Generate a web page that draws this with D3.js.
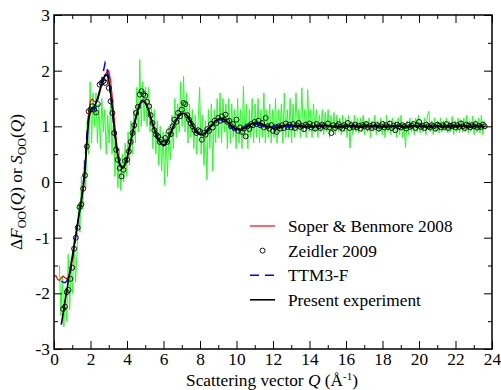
<!DOCTYPE html>
<html>
<head>
<meta charset="utf-8">
<script src="https://cdn.jsdelivr.net/npm/d3@7"></script>
<style>
  body { margin: 0; background: #fff; }
  svg, svg text { font-family: "Liberation Serif", "Times New Roman", "DejaVu Serif", serif; }
</style>
</head>
<body>
<div id="chart"></div>
<script>
// ---- data ----
const xTicks = [0, 2, 4, 6, 8, 10, 12, 14, 16, 18, 20, 22, 24];
const yTicks = [-3, -2, -1, 0, 1, 2, 3];
const legendLabels = ['Soper & Benmore 2008', 'Zeidler 2009', 'TTM3-F', 'Present experiment'];
const serif = '"Liberation Serif", "Times New Roman", "DejaVu Serif", serif';
const fontSize = 17.3;

// smooth curves: Q step 0.1 up to Q = 13, then step 0.25
const soperQ0 = 0.0;
const soperValues = [
  -1.70,-1.68,-1.75,-1.77,-1.72,-1.69,-1.72,-1.74,-1.70,-1.60,
  -1.42,-1.18,-0.95,-0.73,-0.52,-0.30,-0.05,0.32,0.80,1.25,
  1.46,1.49,1.45,1.44,1.50,1.60,1.72,1.83,1.92,1.98,
  2.00,1.82,1.50,1.15,0.80,0.52,0.34,0.25,0.24,0.30,
  0.40,0.54,0.70,0.86,1.02,1.17,1.30,1.40,1.46,1.48,
  1.45,1.38,1.28,1.17,1.06,0.95,0.86,0.78,0.71,0.67,
  0.65,0.66,0.71,0.78,0.86,0.95,1.04,1.11,1.17,1.21,
  1.23,1.24,1.23,1.20,1.15,1.09,1.02,0.96,0.90,0.87,
  0.85,0.85,0.86,0.89,0.93,0.97,1.01,1.05,1.09,1.11,
  1.13,1.13,1.13,1.12,1.10,1.07,1.04,1.01,0.98,0.96,
  0.94,0.94,0.94,0.95,0.97,0.99,1.01,1.03,1.04,1.05,
  1.05,1.05,1.04,1.03,1.02,1.00,0.99,0.98,0.98,0.98,
  0.98,0.99,1.00,1.01,1.01,1.02,1.01,1.01,1.00,1.00,
  0.99,
  1.00,1.01,1.01,1.00,0.99,0.99,1.00,1.01,1.01,1.00,
  0.99,1.00,1.01,1.00,1.00,0.99,1.00,1.01,1.00,1.00,
  0.99,1.00,1.01,1.01,1.00,0.99,1.00,1.00,1.01,1.00,
  0.99,1.00,1.01,1.00,1.00,0.99,1.00,1.01,1.00,1.00,
  1.00,1.00
];

const ttmQ0 = 0.4;
const ttmValues = [
  -1.78,-1.80,-1.81,-1.78,-1.72,-1.60,
  -1.40,-1.18,-0.96,-0.74,-0.53,-0.30,-0.05,0.35,0.85,1.20,
  1.30,1.33,1.30,1.35,1.48,1.62,1.80,1.98,2.14,2.05,
  1.85,1.56,1.25,0.93,0.64,0.44,0.30,0.24,0.25,0.32,
  0.43,0.57,0.72,0.88,1.04,1.19,1.31,1.40,1.46,1.47,
  1.43,1.36,1.26,1.15,1.04,0.93,0.84,0.76,0.70,0.66,
  0.65,0.67,0.72,0.80,0.88,0.97,1.05,1.12,1.17,1.21,
  1.23,1.23,1.21,1.17,1.12,1.06,0.99,0.93,0.89,0.86,
  0.85,0.85,0.87,0.90,0.94,0.98,1.02,1.06,1.09,1.11,
  1.12,1.12,1.11,1.09,1.07,1.04,1.01,0.98,0.96,0.94,
  0.93,0.93,0.94,0.96,0.98,1.00,1.02,1.04,1.05,1.05,
  1.05,1.04,1.03,1.01,1.00,0.99,0.98,0.98,0.98,0.99,
  1.00,1.01,1.02,1.02,1.02,1.01,1.00,0.99,0.99,0.99,
  1.00,
  1.01,1.00,1.00,0.99,1.00,1.01,1.01,1.00,0.99,1.00,
  1.00,1.01,1.00,0.99,1.00,1.00,1.01,1.00,1.00,0.99,
  1.00,1.01,1.00,1.00,0.99,1.00,1.01,1.00,1.00,1.00,
  0.99,1.00,1.01,1.00,1.00,1.00,0.99,1.00,1.01,1.00,
  1.00,1.00
];

const presentQ0 = 0.4;
const presentValues = [
  -2.56,-2.36,-2.15,-1.95,-1.75,-1.55,
  -1.34,-1.14,-0.94,-0.73,-0.53,-0.33,-0.12,0.20,0.68,1.12,
  1.29,1.33,1.36,1.42,1.52,1.64,1.76,1.86,1.92,1.93,
  1.83,1.60,1.30,0.98,0.68,0.47,0.33,0.27,0.27,0.33,
  0.43,0.57,0.72,0.88,1.03,1.18,1.30,1.39,1.44,1.45,
  1.42,1.36,1.27,1.16,1.05,0.95,0.86,0.78,0.72,0.68,
  0.67,0.68,0.73,0.80,0.88,0.96,1.04,1.11,1.16,1.20,
  1.22,1.23,1.22,1.19,1.14,1.08,1.01,0.95,0.90,0.87,
  0.86,0.85,0.86,0.88,0.92,0.96,1.00,1.04,1.08,1.11,
  1.13,1.14,1.14,1.13,1.11,1.08,1.05,1.02,0.99,0.97,
  0.95,0.94,0.94,0.95,0.96,0.98,1.00,1.02,1.04,1.05,
  1.06,1.06,1.06,1.05,1.04,1.03,1.01,1.00,0.99,0.98,
  0.97,0.97,0.97,0.98,0.99,1.00,1.01,1.02,1.02,1.02,
  1.02,
  1.01,1.00,0.99,0.99,1.00,1.01,1.02,1.01,1.00,0.99,
  0.99,1.00,1.01,1.00,0.99,1.00,1.01,1.01,1.00,0.99,
  1.00,1.00,1.01,1.00,0.99,1.00,1.01,1.00,1.00,0.99,
  1.00,1.01,1.00,0.99,1.00,1.00,1.01,1.00,0.99,1.00,
  1.00,1.00
];

// Zeidler 2009 points, Q step 0.1
const zeidlerQ0 = 0.5;
const zeidlerValues = [
  -2.28,-2.24,-1.98,-1.94,-1.74,-1.54,-1.20,-1.00,-0.82,-0.45,
  -0.40,-0.12,0.12,0.64,1.27,1.30,1.36,1.30,1.25,1.40,
  1.75,1.78,1.81,1.78,1.87,1.69,1.45,1.24,0.88,0.58,
  0.40,0.25,0.10,0.22,0.38,0.40,0.55,0.72,0.88,1.02,
  1.24,1.35,1.57,1.63,1.58,1.55,1.44,1.36,1.20,1.06,
  0.93,0.85,0.82,0.72,0.76,0.70,0.79,0.72,0.91,0.86,
  1.00,1.12,1.08,1.24,1.18,1.30,1.42,1.40,1.20,1.12,
  1.05,1.00,0.93,0.88,0.93,0.91,0.76,0.88,0.85,0.95,
  0.92,1.04,0.98,1.10,1.06,1.15,1.10,1.18,1.12,1.21,
  1.08,1.10,1.00,1.04,0.96,1.12,0.92,0.98,0.90,0.96,
  0.82,1.00,0.95,1.04,1.02,1.08,1.04,1.10,1.02,1.06,
  0.98,1.15,1.00,0.96,1.02,0.92,0.98,0.90,1.00,0.96,
  1.02,0.97,1.05,0.99,1.03,0.98,1.04,0.97,1.02,1.06,
  0.99,1.01,0.95,1.03,1.00,1.05,0.98,1.02,0.96,1.04,
  1.00,0.97,1.03,1.01,0.99,1.05,0.98,0.88,1.02,0.97,
  1.01,1.04,0.99,0.96,1.02,1.00,1.06,0.97,1.02,0.99,
  1.03,0.98,1.01,0.96,1.02,1.00,1.04,0.98,1.01,0.97,
  1.03,0.99,1.02,0.96,1.00,1.04,0.98,1.02,0.99,1.05,
  0.97,1.01,0.93,1.03,1.00,0.98,1.02,1.00,0.96,1.03,
  0.99,1.01,1.04,0.97,1.02,1.08,0.99,1.01,0.97,1.03,
  1.00,0.98,1.02,1.00,0.96,1.03,1.01,0.98,1.02,0.99,
  1.04,0.97,1.01,1.00,1.03,0.98,1.02,0.99,1.05,1.00,
  0.97,1.03,1.01,0.98,1.02,1.00,1.04,0.98,1.01,0.99,
  1.03,1.00
];

// raw (noisy) data in green, Q step 0.08
const rawQ0 = 0.3;
const rawStep = 0.08;
const rawValues = [
  -1.50,-2.40,-1.70,-2.60,-1.90,-2.50,-1.30,-2.30,-1.40,-2.00,-1.00,-1.80,
  -1.30,-0.40,-0.90,0.10,-0.50,0.40,-0.10,1.10,0.50,1.80,0.70,1.60,
  1.00,1.60,0.70,1.40,0.60,1.50,0.90,1.30,0.50,1.20,0.70,1.40,
  0.50,1.20,0.10,0.80,-0.10,0.60,-0.15,0.50,0.00,0.70,0.10,0.90,
  0.30,1.10,0.50,1.30,0.70,1.70,0.90,2.20,1.00,1.80,1.10,1.70,
  1.00,1.70,0.90,1.40,0.60,1.30,0.50,1.10,0.30,1.00,0.20,0.90,
  -0.05,0.90,0.10,1.00,0.40,1.20,0.60,1.50,0.80,1.40,0.90,1.80,
  1.00,1.90,0.90,1.60,0.70,1.40,0.80,1.30,0.60,1.20,0.50,1.10,
  1.70,0.50,1.20,0.30,1.10,0.04,1.30,0.60,1.40,0.20,1.30,0.70,
  1.50,0.80,1.60,0.70,1.50,0.90,1.40,0.60,1.50,0.70,1.40,0.80,
  1.30,0.60,1.50,0.70,1.30,0.60,1.72,0.80,1.40,0.60,1.30,0.80,
  1.50,0.70,1.40,0.80,1.50,0.70,1.30,0.80,1.60,0.70,1.30,0.80,
  1.40,0.70,1.30,0.80,1.50,0.70,1.30,0.90,1.40,0.70,1.60,0.80,
  1.30,0.80,1.50,0.70,1.40,0.80,1.60,0.90,1.30,0.80,1.69,0.90,
  1.30,0.80,1.66,0.90,1.30,0.80,1.40,0.90,1.30,0.80,1.20,0.90,
  1.30,0.85,1.25,0.90,1.30,0.80,1.20,0.90,1.25,0.85,1.20,0.90,
  1.15,0.85,1.20,0.90,1.15,0.80,1.20,0.61,1.10,0.85,1.20,0.90,
  1.15,0.88,1.15,0.90,1.20,0.85,1.10,0.90,1.15,0.80,1.10,0.90,
  1.20,0.85,1.10,0.90,1.15,0.85,1.10,0.80,1.20,0.90,1.10,0.85,
  1.15,0.90,1.10,0.80,1.15,0.85,1.20,0.80,1.05,0.62,1.10,0.85,
  1.15,0.90,1.10,0.85,1.15,0.90,1.20,0.88,1.10,0.90,1.15,0.85,
  1.20,1.27,0.90,1.10,0.85,1.15,0.90,1.10,0.88,1.15,0.90,1.10,
  0.92,1.15,0.88,1.10,0.90,1.18,0.85,1.10,0.90,1.15,0.88,1.12,
  0.90,1.15,0.90,1.20,0.88,1.10,0.92,1.18,0.85,1.12,0.90,1.15,
  0.88,1.20,0.85,1.10
];

// ---- layout ----
const margin = { top: 15, right: 9, bottom: 41, left: 54 };
const width = 501 - margin.left - margin.right;
const height = 390 - margin.top - margin.bottom;

const svg = d3.select('#chart')
  .append('svg')
  .attr('width', 501)
  .attr('height', 390)
  .attr('font-family', serif)
  .append('g')
  .attr('transform', `translate(${margin.left}, ${margin.top})`);

const x = d3.scaleLinear().domain([0, 24]).range([0, width]);
const y = d3.scaleLinear().domain([-3, 3]).range([height, 0]);

// Q positions for the smooth curves
function curveQ(q0, n) {
  const nFine = Math.floor((13 - q0) / 0.1 + 1e-6) + 1;
  return d3.range(n).map(i => i < nFine ? q0 + i * 0.1 : 13 + (i - nFine + 1) * 0.25);
}
function toPoints(qs, vals) { return vals.map((v, i) => [qs[i], v]); }

const soper = toPoints(curveQ(soperQ0, soperValues.length), soperValues);
const ttm = toPoints(curveQ(ttmQ0, ttmValues.length), ttmValues);
const present = toPoints(curveQ(presentQ0, presentValues.length), presentValues);
const zeidler = zeidlerValues.map((v, i) => [zeidlerQ0 + i * 0.1, v]);
const raw = rawValues.map((v, i) => [rawQ0 + i * rawStep, v]);

svg.append('clipPath').attr('id', 'plot-clip')
  .append('rect').attr('width', width).attr('height', height);

const line = d3.line().x(d => x(d[0])).y(d => y(d[1]));
const plot = svg.append('g').attr('clip-path', 'url(#plot-clip)');

//green raw data
plot.append('path').datum(raw)
  .attr('d', line).attr('fill', 'none')
  .attr('stroke', '#22ff22').attr('stroke-width', 1);

//Soper & Benmore
plot.append('path').datum(soper)
  .attr('d', line).attr('fill', 'none')
  .attr('stroke', '#ff0000').attr('stroke-width', 1.2);

//Zeidler circles
plot.append('g')
  .selectAll('circle')
  .data(zeidler)
  .enter()
  .append('circle')
  .attr('cx', d => x(d[0]))
  .attr('cy', d => y(d[1]))
  .attr('r', 2.5)
  .attr('fill', 'none')
  .attr('stroke', '#000')
  .attr('stroke-width', 0.9);

//TTM3-F
plot.append('path').datum(ttm)
  .attr('d', line).attr('fill', 'none')
  .attr('stroke', '#0000ff').attr('stroke-width', 1.5)
  .attr('stroke-dasharray', '9,6');

//present experiment
plot.append('path').datum(present)
  .attr('d', line).attr('fill', 'none')
  .attr('stroke', '#000').attr('stroke-width', 1.6);

// ---- axes, ticks pointing inward ----
const minorX = d3.range(1, 24, 2);
const minorY = d3.range(-2.5, 3, 1);

function styleAxis(g) {
  g.attr('font-family', serif).attr('font-size', fontSize);
  g.select('.domain').remove();
  g.selectAll('line').attr('stroke', '#000').attr('stroke-width', 1);
  g.selectAll('text').attr('fill', '#000');
}

svg.append('g').attr('transform', `translate(0, ${height})`)
  .call(d3.axisBottom(x).tickValues(xTicks).tickSize(-8).tickPadding(4).tickFormat(d => String(d)))
  .call(styleAxis);
svg.append('g').attr('transform', `translate(0, ${height})`)
  .call(d3.axisBottom(x).tickValues(minorX).tickSize(-4).tickFormat(''))
  .call(styleAxis);
svg.append('g')
  .call(d3.axisTop(x).tickValues(xTicks).tickSize(-8).tickFormat(''))
  .call(styleAxis);
svg.append('g')
  .call(d3.axisTop(x).tickValues(minorX).tickSize(-4).tickFormat(''))
  .call(styleAxis);

svg.append('g')
  .call(d3.axisLeft(y).tickValues(yTicks).tickSize(-8).tickPadding(4).tickFormat(d => String(d)))
  .call(styleAxis);
svg.append('g')
  .call(d3.axisLeft(y).tickValues(minorY).tickSize(-4).tickFormat(''))
  .call(styleAxis);
svg.append('g').attr('transform', `translate(${width}, 0)`)
  .call(d3.axisRight(y).tickValues(yTicks).tickSize(-8).tickFormat(''))
  .call(styleAxis);
svg.append('g').attr('transform', `translate(${width}, 0)`)
  .call(d3.axisRight(y).tickValues(minorY).tickSize(-4).tickFormat(''))
  .call(styleAxis);

svg.append('rect')
  .attr('width', width).attr('height', height)
  .attr('fill', 'none').attr('stroke', '#000').attr('stroke-width', 1.5);

// ---- axis titles ----
const xTitle = svg.append('text')
  .attr('x', width / 2 - 1).attr('y', height + 37)
  .attr('text-anchor', 'middle').attr('font-size', fontSize);
xTitle.append('tspan').text('Scattering vector ');
xTitle.append('tspan').attr('font-style', 'italic').text('Q');
xTitle.append('tspan').text(' (Å');
xTitle.append('tspan').attr('font-size', 11).attr('dy', -6).text('-1');
xTitle.append('tspan').attr('dy', 6).text(')');

const yTitle = svg.append('text')
  .attr('transform', `translate(-32, ${height / 2}) rotate(-90)`)
  .attr('text-anchor', 'middle').attr('font-size', fontSize);
yTitle.append('tspan').text('Δ');
yTitle.append('tspan').attr('font-style', 'italic').text('F');
yTitle.append('tspan').attr('font-size', 12).attr('dy', 4).text('OO');
yTitle.append('tspan').attr('dy', -4).text('(');
yTitle.append('tspan').attr('font-style', 'italic').text('Q');
yTitle.append('tspan').text(') or ');
yTitle.append('tspan').attr('font-style', 'italic').text('S');
yTitle.append('tspan').attr('font-size', 12).attr('dy', 4).text('OO');
yTitle.append('tspan').attr('dy', -4).text('(');
yTitle.append('tspan').attr('font-style', 'italic').text('Q');
yTitle.append('tspan').text(')');

// ---- legend ----
const legend = svg.append('g').attr('transform', 'translate(196, 211)');
const legendRows = legend.selectAll('g')
  .data(legendLabels)
  .enter()
  .append('g')
  .attr('transform', (d, i) => `translate(0, ${i * 24.6})`);

legendRows.append('text')
  .attr('x', 38).attr('y', 6)
  .attr('font-size', fontSize)
  .text(d => d);

legendRows.filter((d, i) => i !== 1).append('line')
  .attr('x1', 0).attr('x2', 25).attr('y1', 0).attr('y2', 0)
  .attr('stroke', (d, i) => ['#ff0000', '#0000ff', '#000'][i])
  .attr('stroke-width', (d, i) => [1.2, 1.5, 1.6][i])
  .attr('stroke-dasharray', (d, i) => i === 1 ? '9,6' : null);

legendRows.filter((d, i) => i === 1).append('circle')
  .attr('cx', 12.5).attr('cy', 0).attr('r', 2.5)
  .attr('fill', 'none').attr('stroke', '#000').attr('stroke-width', 0.9);
</script>
</body>
</html>
